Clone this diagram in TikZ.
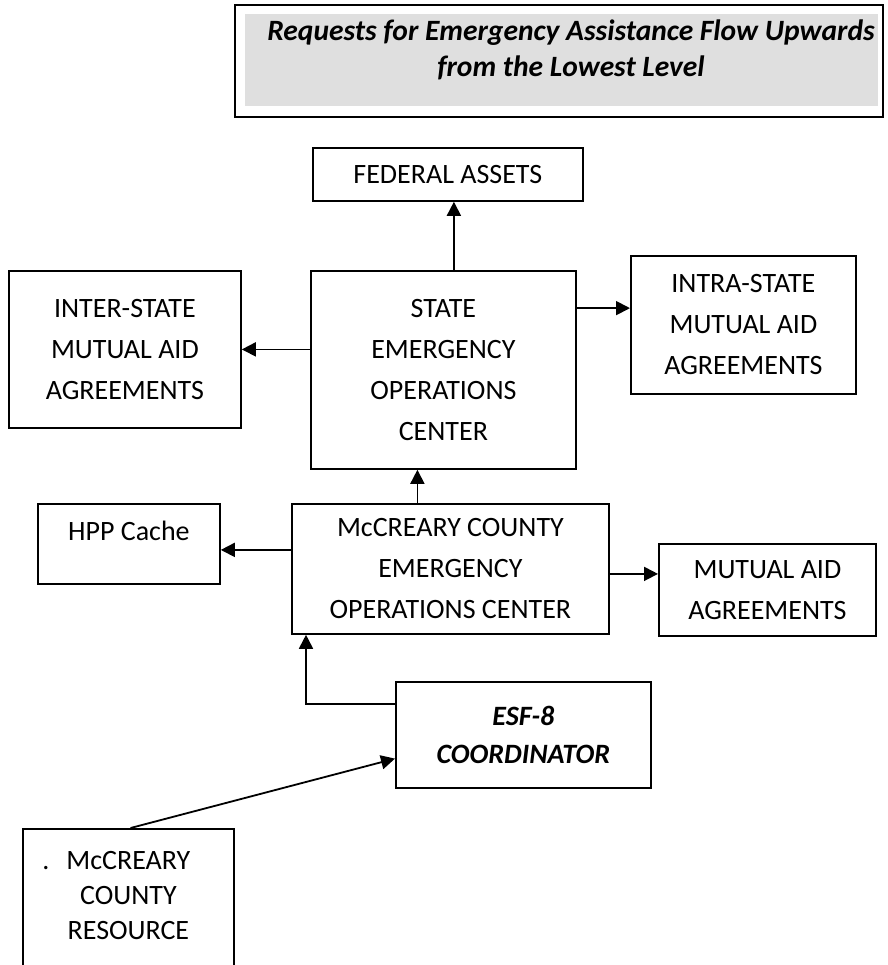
\documentclass[tikz,border=0pt]{standalone}
\usepackage{fontspec}
\setmainfont{Carlito}
\usetikzlibrary{arrows.meta,calc}

\begin{document}
\begin{tikzpicture}[x=1pt,y=-1pt,
  box/.style={draw,line width=1.8pt,anchor=north west,align=center,inner sep=0pt,
    font=\fontsize{28}{41}\selectfont},
  arr/.style={line width=1.8pt,-{Triangle[length=14pt,width=14pt]}}]

\clip (0,0) rectangle (887,965);

% heading
\draw[line width=1.8pt] (235,5) rectangle (883,117);
\fill[gray!25] (245,14) rectangle (878,106);
\node [font=\fontsize{29.5}{36}\selectfont\bfseries\itshape,align=center] (title) at (571,50)
  {Requests for Emergency Assistance Flow Upwards\\from the Lowest Level};

% state level
\node [box,minimum width=270,minimum height=53] (fed) at (312,147) {FEDERAL ASSETS};
\node [box,minimum width=265,minimum height=198] (state) at (310,270) {STATE\\EMERGENCY\\OPERATIONS\\CENTER};
\node [box,minimum width=232,minimum height=157] (inter) at (8,270) {INTER-STATE\\MUTUAL AID\\AGREEMENTS};
\node [box,minimum width=225,minimum height=138] (intra) at (630,255) {INTRA-STATE\\MUTUAL AID\\AGREEMENTS};

% county level
\node [box,minimum width=182,minimum height=80,text depth=26pt] (hpp) at (37,503) {HPP Cache};
\node [box,minimum width=317,minimum height=130] (county) at (291,503) {McCREARY COUNTY\\EMERGENCY\\OPERATIONS CENTER};
\node [box,minimum width=217,minimum height=92] (mutual) at (658,543) {MUTUAL AID\\AGREEMENTS};
\node [box,minimum width=255,minimum height=106,font=\fontsize{28}{38}\selectfont\bfseries\itshape] (esf) at (395,681) {ESF-8\\COORDINATOR};
\node [box,minimum width=211,minimum height=180,font=\fontsize{28}{35}\selectfont,text depth=46pt] (res) at (22,828)
  {\llap{.\hspace{17pt}}McCREARY\\COUNTY\\RESOURCE};

\coordinate (intrain) at ($(intra.north west)!0.38!(intra.south west)$);
\coordinate (countyup) at ($(county.north)+(-33,0)$);
\coordinate (hppin) at ($(hpp.east)+(0,6)$);
\coordinate (mutin) at ($(mutual.west)+(0,-16)$);
\coordinate (esfout) at ($(esf.north west)!0.21!(esf.south west)$);
\coordinate (esfin) at ($(esf.north west)!0.72!(esf.south west)$);

\draw [arr] ($(state.north -| fed.south)+(6,0)$) -- ($(fed.south)+(6,0)$);
\draw [arr] (state.west |- inter.east) -- (inter.east);
\draw [arr] (state.east |- intrain) -- (intrain);
\draw [arr] (countyup) -- (state.south -| countyup);
\draw [arr] (county.west |- hppin) -- (hppin);
\draw [arr] (county.east |- mutin) -- (mutin);
\draw [arr] (esfout) -| ($(county.south west)+(15,0)$);
\draw [arr] ($(res.north west)!0.51!(res.north east)$) -- (esfin);

\end{tikzpicture}
\end{document}
